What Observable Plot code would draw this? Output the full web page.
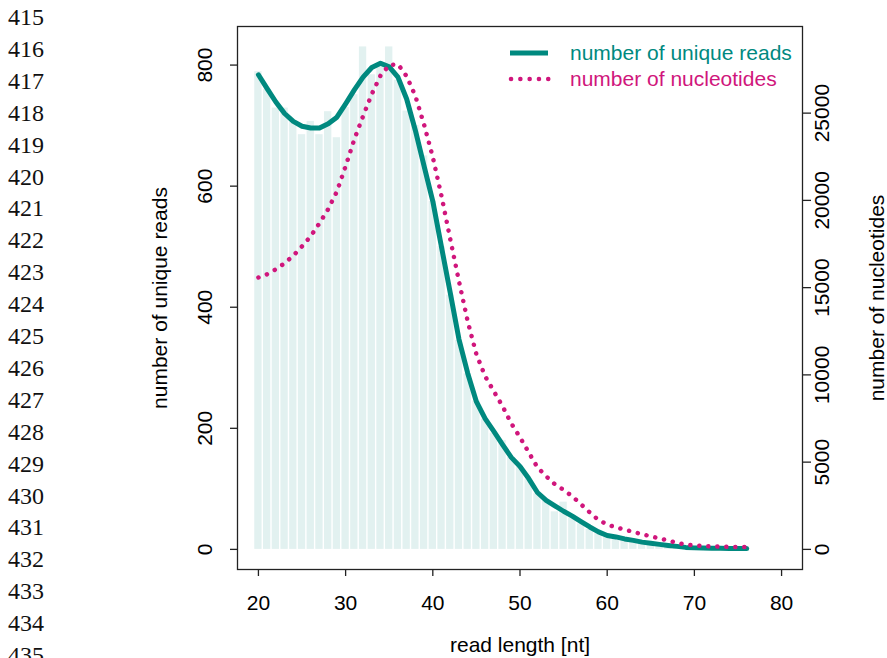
<!DOCTYPE html>
<html>
<head>
<meta charset="utf-8">
<script src="https://cdn.jsdelivr.net/npm/d3@7"></script>
<script src="https://cdn.jsdelivr.net/npm/@observablehq/plot@0.6"></script>
<style>
  body { margin: 0; background: #fff; }
  #wrap { position: relative; width: 887px; height: 658px; overflow: hidden; background: #fff; }
</style>
</head>
<body>
<div id="wrap"></div>
<script>
// ---- data ----
const readLengths = [20,21,22,23,24,25,26,27,28,29,30,31,32,33,34,35,36,37,38,39,40,41,42,43,44,45,46,47,48,49,50,51,52,53,54,55,56,57,58,59,60,61,62,63,64,65,66,67,68,69,70,71,72,73,74,75,76];
// histogram bars: number of unique reads per length
const uniqueReadsBars = [789,760,729,729,706,685,707,685,723,680,730,751,830,784,800,830,775,724,700,650,575,500,420,345,290,245,215,192,180,152,135,116,92,80,62,78,52,42,33,26,21,19,16,14,12,10,8,7,5,4,3,3,2,2,2,1,1];
// smoothed curve: number of unique reads
const uniqueReadsCurve = [784,761,739,720,707,699,696,696,703,714,736,759,780,796,803,797,780,744,692,633,575,499,424,347,291,244,216,195,173,152,137,117,94,81,72,63,55,46,37,29,23,20.6,17.3,14.9,12,10,8.3,6.6,5,3.3,2.5,2.2,2,1.8,1.6,1.5,1.3];
// smoothed curve: number of nucleotides (right axis)
const nucleotidesCurve = [15580,15770,16050,16400,16830,17370,17950,18690,19500,20510,21960,23500,24830,26090,27150,27750,27810,27110,25980,24340,22480,20240,17780,15370,13070,11180,9920,9060,8200,7220,6420,5560,4700,4190,3730,3410,3040,2580,2120,1680,1430,1260,1135,1000,870,745,630,505,380,270,230,185,170,155,140,130,130];

const xTicks = [20,30,40,50,60,70,80];
const leftTicks = [0,200,400,600,800];
const rightTicks = [0,5000,10000,15000,20000,25000];
const lineNumbers = [415,416,417,418,419,420,421,422,423,424,425,426,427,428,429,430,431,432,433,434,435];
const legendLabels = ["number of unique reads", "number of nucleotides"];
const axisTitles = {x: "read length [nt]", yLeft: "number of unique reads", yRight: "number of nucleotides"};

// ---- styling ----
const teal = "#00897f";
const magenta = "#d0167c";
const barFill = "#e2f1f0";
const font = "Liberation Sans, Arial, Helvetica, sans-serif";
const fs = 21;

// nucleotides are drawn against the reads scale; factor to convert
const readsMax = 830.5, nucMax = 28812;
const k = readsMax / nucMax;

const bars = readLengths.map((len, i) => ({len, reads: uniqueReadsBars[i]}));
const readsLine = readLengths.map((len, i) => ({len, reads: uniqueReadsCurve[i]}));
const nucLine = readLengths.map((len, i) => ({len, nuc: nucleotidesCurve[i]}));

const chart = Plot.plot({
  width: 887,
  height: 658,
  marginLeft: 237,
  marginRight: 85,
  marginTop: 26,
  marginBottom: 89,
  style: {fontFamily: font, fontSize: fs + "px", background: "white", color: "#000"},
  x: {domain: [17.6, 82.4]},
  y: {domain: [-0.04 * readsMax, 1.04 * readsMax]},
  marks: [
    Plot.rectY(bars, {x1: d => d.len - 0.5, x2: d => d.len + 0.5, y: "reads", fill: barFill, insetLeft: 0.7, insetRight: 0.7}),
    Plot.line(readsLine, {x: "len", y: "reads", stroke: teal, strokeWidth: 5, strokeLinejoin: "round", strokeLinecap: "round"}),
    Plot.line(nucLine, {x: "len", y: d => d.nuc * k, stroke: magenta, strokeWidth: 4.5, strokeDasharray: "0.1,8.9", strokeLinecap: "round"}),
    Plot.frame({stroke: "#222", strokeWidth: 1.3}),
    Plot.axisX({ticks: xTicks, tickSize: 7, tickFormat: () => "", label: null, stroke: "#222", strokeWidth: 1.3}),
    Plot.axisY({anchor: "left", ticks: leftTicks, tickSize: 7, tickFormat: () => "", label: null, stroke: "#222", strokeWidth: 1.3}),
    Plot.axisY({anchor: "right", ticks: rightTicks.map(v => v * k), tickSize: 8, tickFormat: () => "", label: null, stroke: "#222", strokeWidth: 1.3}),
    Plot.text(xTicks, {x: d => d, text: d => String(d), frameAnchor: "bottom", dy: 34, fontSize: fs, textAnchor: "middle", lineAnchor: "middle", fill: "#000"}),
    Plot.text(leftTicks, {y: d => d, text: d => String(d), frameAnchor: "left", dx: -32, rotate: -90, fontSize: fs, textAnchor: "middle", lineAnchor: "middle", fill: "#000"}),
    Plot.text(rightTicks, {y: d => d * k, text: d => String(d), frameAnchor: "right", dx: 20, rotate: -90, fontSize: fs, textAnchor: "middle", lineAnchor: "middle", fill: "#000"}),
    Plot.text([axisTitles.x], {text: d => d, frameAnchor: "bottom", dy: 76, fontSize: fs, textAnchor: "middle", lineAnchor: "middle", fill: "#000"}),
    Plot.text([axisTitles.yLeft], {text: d => d, frameAnchor: "left", dx: -77, rotate: -90, fontSize: fs, textAnchor: "middle", lineAnchor: "middle", fill: "#000"}),
    Plot.text([axisTitles.yRight], {text: d => d, frameAnchor: "right", dx: 75, rotate: -90, fontSize: fs, textAnchor: "middle", lineAnchor: "middle", fill: "#000"})
  ]
});

document.getElementById("wrap").appendChild(chart);

// legend (top right inside the plot box) and the page's line numbers
const svg = d3.select(chart);
const leg = svg.append("g").attr("font-family", font).attr("font-size", fs).attr("text-anchor", "start");
const legendItems = [
  {label: legendLabels[0], color: teal, dash: null, width: 5, y: 53},
  {label: legendLabels[1], color: magenta, dash: "0.1,9.2", width: 4.5, y: 79}
];
legendItems.forEach(it => {
  const l = leg.append("line").attr("x1", 510).attr("x2", 548).attr("y1", it.y).attr("y2", it.y)
    .attr("stroke", it.color).attr("stroke-width", it.width).attr("stroke-linecap", it.dash ? "round" : "butt");
  if (it.dash) l.attr("stroke-dasharray", it.dash).attr("x1", 511).attr("x2", 549);
  leg.append("text").attr("x", 570).attr("y", it.y).attr("dy", "0.35em").attr("text-anchor", "start").attr("fill", it.color).text(it.label);
});

const nums = svg.append("g").attr("font-family", "Liberation Serif, Times New Roman, serif").attr("font-size", 24).attr("fill", "#111").attr("text-anchor", "start");
lineNumbers.forEach((n, i) => {
  nums.append("text").attr("x", 8).attr("y", 25 + i * 31.9).attr("text-anchor", "start").text(String(n));
});
</script>
</body>
</html>
